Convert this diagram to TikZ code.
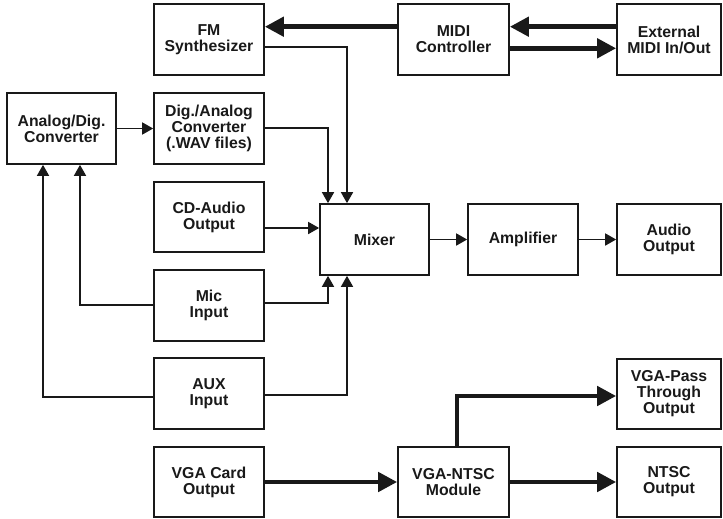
\documentclass[tikz,border=0pt]{standalone}
\usepackage{fontspec}
\setmainfont{Liberation Sans}
\usetikzlibrary{arrows.meta,calc}
\begin{document}
\begin{tikzpicture}[x=1pt,y=-1pt,
  box/.style={draw=black!90,line width=1.7pt,minimum width=110pt,minimum height=71pt,
    inner sep=0pt,align=center,font=\bfseries\fontsize{15.8}{16}\selectfont,text=black!90},
  wbox/.style={box,minimum width=104pt},
  thinarrow/.style={draw=black!90,line width=1.7pt,-{Triangle[length=11pt,width=12pt]}},
  thickarrow/.style={draw=black!90,line width=4.6pt,line join=miter,-{Triangle[length=19pt,width=19pt]}}]
\useasboundingbox (0,0) rectangle (723,519);
% boxes
\node[box] (fm) at (209,39.5) {FM\\Synthesizer};
\node[box,minimum width=111pt] (midi) at (453.5,39.5) {MIDI\\Controller};
\node[wbox] (ext) at (669,39.5) {External\\MIDI In/Out};
\node[box,minimum width=109pt] (ad) at (61.5,128.5) {Analog/Dig.\\Converter};
\node[box] (da) at (209,128.5) {Dig./Analog\\Converter\\(.WAV files)};
\node[box,minimum height=70pt] (cd) at (209,217) {CD-Audio\\Output};
\node[box,minimum width=109pt] (mixer) at (374.5,239.5) {Mixer};
\node[box] (amp) at (523,239.5) {Amplifier};
\node[wbox] (audio) at (669,239.5) {Audio\\Output};
\node[box] (mic) at (209,305.5) {Mic\\Input};
\node[box] (aux) at (209,393.5) {AUX\\Input};
\node[box,minimum height=70pt] (vga) at (209,482) {VGA Card\\Output};
\node[box,minimum width=111pt,minimum height=70pt] (vntsc) at (453.5,482) {VGA-NTSC\\Module};
\node[wbox,minimum height=70pt] (pass) at (669,394) {VGA-Pass\\Through\\Output};
\node[wbox,minimum height=70pt] (ntsc) at (669,482) {NTSC\\Output};
% MIDI connectors
\draw[thickarrow] ($(midi.west)+(0,-12.8)$) -- ($(fm.east)+(0,-12.8)$);
\draw[thickarrow] ($(ext.west)+(0,-12.8)$) -- ($(midi.east)+(0,-12.8)$);
\draw[thickarrow] ($(midi.east)+(0,8.8)$) -- ($(ext.west)+(0,8.8)$);
% audio connectors
\draw[thinarrow] ($(fm.east)+(0,7.5)$) -| ($(mixer.north)+(-27.5,0)$);
\draw[thinarrow] ($(da.east)+(0,-0.5)$) -| ($(mixer.north)+(-46.5,0)$);
\draw[thinarrow] (ad.east) -- (da.west);
\draw[thinarrow] ($(cd.east)+(0,11)$) -- ($(mixer.west)+(0,-11.5)$);
\draw[thinarrow] (mixer.east) -- (amp.west);
\draw[thinarrow] (amp.east) -- (audio.west);
\draw[thinarrow] ($(mic.west)+(0,-0.5)$) -| ($(ad.south)+(18.5,0)$);
\draw[thinarrow] ($(aux.west)+(0,3.5)$) -| ($(ad.south)+(-18.5,0)$);
\draw[thinarrow] ($(mic.east)+(0,-2.5)$) -| ($(mixer.south)+(-46.5,0)$);
\draw[thinarrow] ($(aux.east)+(0,1.5)$) -| ($(mixer.south)+(-27.5,0)$);
% video connectors
\draw[thickarrow] (vga.east) -- (vntsc.west);
\draw[thickarrow] (vntsc.east) -- (ntsc.west);
\draw[thickarrow] ($(vntsc.north)+(3.5,0)$) |- ($(pass.west)+(0,2)$);
\end{tikzpicture}
\end{document}
